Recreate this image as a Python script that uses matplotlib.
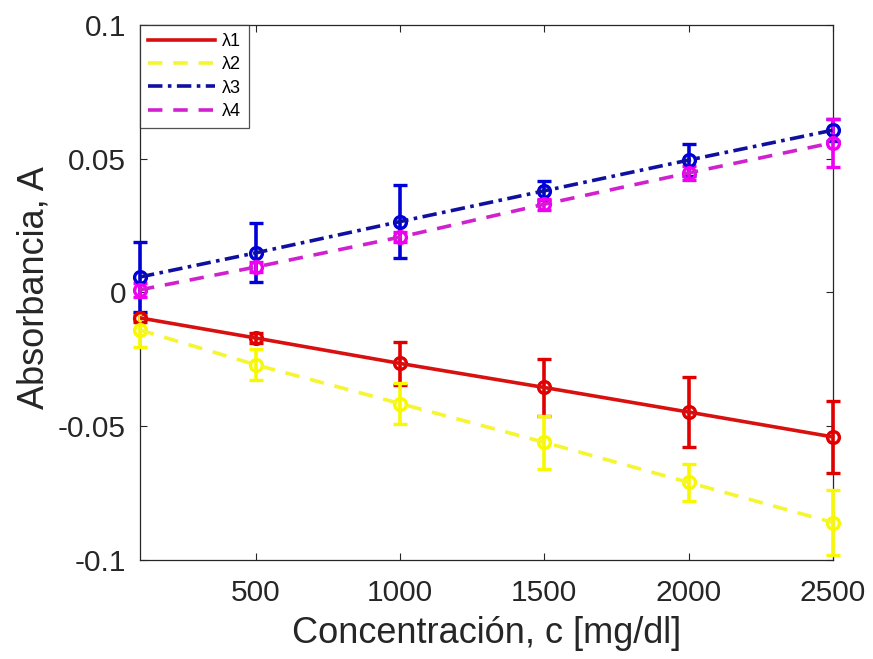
import matplotlib
matplotlib.use("Agg")
import matplotlib.pyplot as plt
import numpy as np

plt.rcParams['font.family'] = ['Liberation Sans', 'DejaVu Sans']

conc = [100, 500, 1000, 1500, 2000, 2500]

a1 = [-0.0095, -0.0170, -0.0265, -0.0355, -0.0447, -0.0540]
e1 = [0.0015, 0.0020, 0.0080, 0.0107, 0.0132, 0.0135]

a2 = [-0.0140, -0.0270, -0.0415, -0.0560, -0.0710, -0.0860]
e2 = [0.0065, 0.0058, 0.0077, 0.0100, 0.0070, 0.0120]

a3 = [0.0058, 0.0148, 0.0265, 0.0380, 0.0495, 0.0607]
e3 = [0.0130, 0.0110, 0.0135, 0.0035, 0.0060, 0.0040]

a4 = [0.0010, 0.0095, 0.0207, 0.0330, 0.0447, 0.0560]
e4 = [0.0025, 0.0020, 0.0020, 0.0020, 0.0025, 0.0090]

labels = ['λ1', 'λ2', 'λ3', 'λ4']
colors = ['#e00000', '#f8f800', '#0000d8', '#f000f0']
linecolors = ['#d81010', '#f5f530', '#1010a0', '#d020d0']
styles = ['-', (0, (4, 3)), (0, (4, 1.5, 1, 1.5)), (0, (4, 3))]

fig = plt.figure(figsize=(8.73, 6.59), dpi=100)
ax = fig.add_axes([140/873, 1-560/659, (833-140)/873, (560-25)/659])

series = [(a1, e1), (a2, e2), (a3, e3), (a4, e4)]
handles = []
for (a, e), c, lc, ls, lab in zip(series, colors, linecolors, styles, labels):
    ax.errorbar(conc, a, yerr=e, fmt='o', color=c, mfc='none', mec=c,
                ms=8.5, mew=2.4, elinewidth=2.6, capsize=5, capthick=2.6,
                zorder=3, clip_on=False)
    h, = ax.plot(conc, a, linestyle=ls, color=lc, lw=2.6, label=lab, zorder=4)
    handles.append(h)

ax.set_xlim(100, 2500)
ax.set_ylim(-0.1, 0.1)
ax.set_xticks([500, 1000, 1500, 2000, 2500])
ax.set_yticks([-0.1, -0.05, 0, 0.05, 0.1])
ax.set_yticklabels(['-0.1', '-0.05', '0', '0.05', '0.1'])
ax.tick_params(direction='in', top=True, right=True, labelsize=21.5,
               length=5, width=0.8, colors='#262626', labelcolor='#262626')
ax.tick_params(axis='x', pad=14)
ax.tick_params(axis='y', pad=10)
for s in ax.spines.values():
    s.set_linewidth(0.9)
    s.set_color('#262626')

ax.set_xlabel('Concentración, c [mg/dl]', fontsize=26, color='#262626', labelpad=6)
ax.set_ylabel('Absorbancia, A', fontsize=26, color='#262626')
ax.yaxis.set_label_coords(-0.128, 0.51)

leg = ax.legend(handles=handles, loc='upper left', fontsize=13, frameon=True,
                fancybox=False, edgecolor='#262626', handlelength=3.7,
                borderaxespad=0, borderpad=0.45, labelspacing=0.35, handletextpad=0.4)
leg.get_frame().set_linewidth(0.9)

fig.savefig('out.png', dpi=100, facecolor='white')
